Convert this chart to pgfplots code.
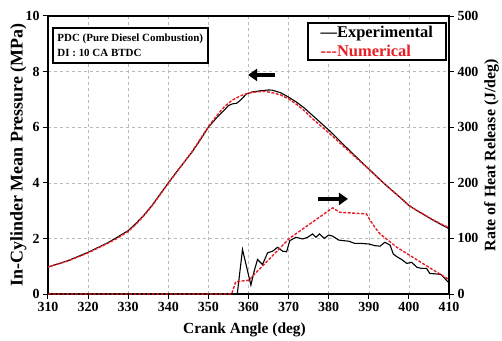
\documentclass[border=0pt]{standalone}
\usepackage{pgfplots}
\usepackage{pgfplotstable}
\pgfplotsset{compat=1.18}
\usetikzlibrary{arrows.meta}
\usepackage{fontspec}
\setmainfont{Liberation Serif}
\definecolor{numred}{RGB}{232,30,37}
\definecolor{gridgray}{RGB}{185,185,185}

\pgfplotstableread{
ca p
310 0.97
315 1.20
320 1.50
325 1.85
327 2.02
330 2.28
332 2.55
334 2.85
336 3.20
338 3.60
340 4.00
342 4.38
344 4.75
346 5.12
348 5.55
350 6.00
352 6.33
354 6.62
355 6.78
356 6.84
357 6.86
358 6.97
359.5 7.20
361 7.27
363 7.31
365 7.34
366 7.33
368 7.24
370 7.08
372 6.90
374 6.68
376 6.42
378 6.16
380 5.90
382 5.62
384 5.33
386 5.05
388 4.77
390 4.50
392 4.22
394 3.95
396 3.70
398 3.45
400 3.18
402 3.00
404 2.83
406 2.66
408 2.50
410 2.35
}\pexp

\pgfplotstableread{
ca p
310 0.97
315 1.19
320 1.48
325 1.83
327 1.98
330 2.25
332 2.52
334 2.83
336 3.18
338 3.58
340 3.98
342 4.37
344 4.75
346 5.14
348 5.58
350 6.02
352 6.40
354 6.74
356 6.98
358 7.13
360 7.23
362 7.27
364 7.29
366 7.24
368 7.16
370 7.02
372 6.82
374 6.58
376 6.30
378 6.05
380 5.80
382 5.54
384 5.27
386 5.01
388 4.75
390 4.49
392 4.22
394 3.95
396 3.70
398 3.45
400 3.19
402 3.01
404 2.84
406 2.67
408 2.52
410 2.38
}\pnum

\pgfplotstableread{
ca h
310 0
357.2 0
358.5 80
360.6 16
361.4 41
362.25 62
363.5 53
364.75 74
366 77
367.25 84
368.5 77
369.5 76
370.3 96
371.8 102
373.5 99
374.75 102
376 108
376.8 102
377.7 108
378.9 100
380 106
381 104
382.5 97
383.6 96
385 95
386.5 91
388 91
390 90
391.5 87
392.8 86
394 93
395.3 88
396.1 72
397 67
398.2 62
399.5 55
400.7 57
402 48
403.2 46
404.4 46
405.2 37
407 36
408 35
410 20
}\hexp

\pgfplotstableread{
ca h
310 0
355.8 0
356.8 22
358 23
360.2 25
361 32
370.2 100
381 155
382.7 147
389.4 144
390.3 133
391.5 120
392.8 108
394.4 99
397 84
401 66
405 48
410 26
}\hnum

\begin{document}
\begin{tikzpicture}[x=1bp,y=1bp]
\useasboundingbox (-48,-46) rectangle (454,294);
\begin{axis}[
  at={(0,0)}, anchor=south west, scale only axis,
  width=401bp, height=278bp,
  xmin=310, xmax=410, ymin=0, ymax=10,
  xtick={310,320,...,410}, ytick={0,2,...,10},
  grid=major, major grid style={gridgray, dashed, line width=0.6bp},
  axis line style={line width=1.3bp},
  tick align=outside, xtick pos=bottom, ytick pos=left,
  major tick length=5bp, tick style={black, line width=1bp},
  /pgf/number format/assume math mode=true,
  ticklabel style={font=\fontsize{14}{16}\selectfont\bfseries},
  xlabel={Crank Angle (deg)},
  xlabel style={font=\fontsize{15.5}{18}\selectfont\bfseries, at={(axis description cs:0.49,-0.13)}, anchor=center},
  ylabel={In-Cylinder Mean Pressure (MPa)},
  ylabel style={font=\fontsize{18}{20}\selectfont\bfseries, at={(axis description cs:-0.074,0.5)}, anchor=center},
]
\addplot[black, line width=1.1bp] table[x=ca,y=p] {\pexp};
\addplot[numred, line width=1.4bp, dash pattern=on 3bp off 1.5bp] table[x=ca,y=p] {\pnum};
\draw[line width=3.5bp, -{Stealth[length=9bp,width=12bp,inset=0pt]}] (axis cs:366.6,7.88) -- (axis cs:359.9,7.88);
\draw[line width=3.5bp, -{Stealth[length=9bp,width=12bp,inset=0pt]}] (axis cs:377.3,3.42) -- (axis cs:384.8,3.42);
\node[draw, line width=1.5bp, anchor=north west, minimum width=155bp, minimum height=35bp, align=left, inner sep=4bp, font=\fontsize{11}{15}\selectfont\bfseries, fill=white] at (axis description cs:0.01,0.96) {PDC (Pure Diesel Combustion)\\DI : 10 CA BTDC};
\node[draw, line width=1.5bp, anchor=north west, minimum width=138bp, minimum height=37bp, align=left, inner sep=2bp, font=\fontsize{16.5}{18.5}\selectfont\bfseries, fill=white] at (axis description cs:0.646,0.978) {\textcolor{black}{—Experimental}\\\textcolor{numred}{-{}-{}-Numerical}};
\end{axis}
\begin{axis}[
  at={(0,0)}, anchor=south west, scale only axis,
  width=401bp, height=278bp,
  xmin=310, xmax=410, ymin=0, ymax=500,
  axis x line=none, axis y line*=right,
  ytick={0,100,...,500},
  axis line style={line width=1.3bp},
  tick align=outside,
  major tick length=5bp, tick style={black, line width=1bp},
  /pgf/number format/assume math mode=true,
  ticklabel style={font=\fontsize{14}{16}\selectfont\bfseries},
  ylabel={Rate of Heat Release (J/deg)},
  ylabel style={font=\fontsize{16}{18}\selectfont\bfseries, at={(axis description cs:1.106,0.5)}, anchor=center, inner sep=0pt},
]
\addplot[black, line width=1.1bp] table[x=ca,y=h] {\hexp};
\addplot[numred, line width=1.4bp, dash pattern=on 3bp off 1.5bp] table[x=ca,y=h] {\hnum};
\end{axis}
\end{tikzpicture}
\end{document}
